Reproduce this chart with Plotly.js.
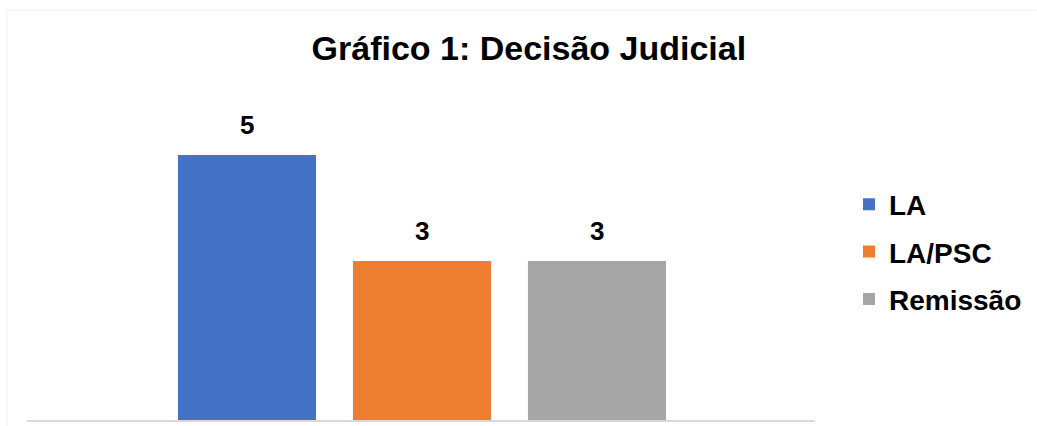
<!DOCTYPE html>
<html>
<head>
<meta charset="utf-8">
<script src="https://cdn.plot.ly/plotly-3.0.1.min.js"></script>
<style>html,body{margin:0;padding:0;background:#fff;}#chart{width:1037px;height:426px;}</style>
</head>
<body>
<div id="chart"></div>
<script>
const categories = ["LA", "LA/PSC", "Remissão"];
const values = [5, 3, 3];
const colors = ["#4472C4", "#ED7D31", "#A5A5A5"];
const titleText = "Gráfico 1: Decisão Judicial";

const FONT = "Liberation Sans, Arial, sans-serif";

const traces = categories.map((c, i) => ({
  type: "bar",
  name: c,
  x: [c],
  y: [values[i]],
  width: 0.789,
  marker: { color: colors[i] },
  hoverinfo: "none",
  legendgroup: c
}));

const annotations = categories.map((c, i) => ({
  x: c, y: values[i], xref: "x", yref: "y",
  text: "<b>" + values[i] + "</b>",
  showarrow: false, yanchor: "bottom", yshift: 13,
  font: { family: FONT, size: 26, color: "#000" }
}));

const layout = {
  width: 1037, height: 426,
  margin: { l: 27, r: 222, t: 102, b: 6 },
  paper_bgcolor: "#fff", plot_bgcolor: "#fff",
  barmode: "overlay",
  showlegend: true,
  title: {
    text: "<b>" + titleText + "</b>",
    x: 0.51, xref: "container", xanchor: "center",
    y: 1 - 48 / 426, yref: "container", yanchor: "middle",
    font: { family: FONT, size: 34, color: "#000" }
  },
  xaxis: {
    type: "category",
    categoryorder: "array", categoryarray: categories,
    range: [-1.257, 3.246],
    showticklabels: false, ticks: "",
    showgrid: false, zeroline: false,
    showline: true, linecolor: "#d9d9d9", linewidth: 1.5,
    fixedrange: true
  },
  yaxis: {
    range: [0, 6], visible: false, showgrid: false, zeroline: false, fixedrange: true
  },
  legend: {
    xref: "container", yref: "container",
    x: 849 / 1037, xanchor: "left",
    y: 1 - 252 / 426, yanchor: "middle",
    font: { family: FONT, size: 28, color: "#000", weight: "bold" },
    tracegroupgap: 8,
    bgcolor: "rgba(0,0,0,0)"
  },
  annotations: annotations,
  shapes: [
    { type: "line", xref: "paper", yref: "paper", x0: -0.0254, x1: 1.2817, y0: 1.289, y1: 1.289, line: { color: "#efefef", width: 1 } },
    { type: "line", xref: "paper", yref: "paper", x0: -0.0254, x1: -0.0254, y0: 1.289, y1: -0.0189, line: { color: "#efefef", width: 1 } }
  ]
};

Plotly.newPlot("chart", traces, layout, { displayModeBar: false, staticPlot: true });
</script>
</body>
</html>
